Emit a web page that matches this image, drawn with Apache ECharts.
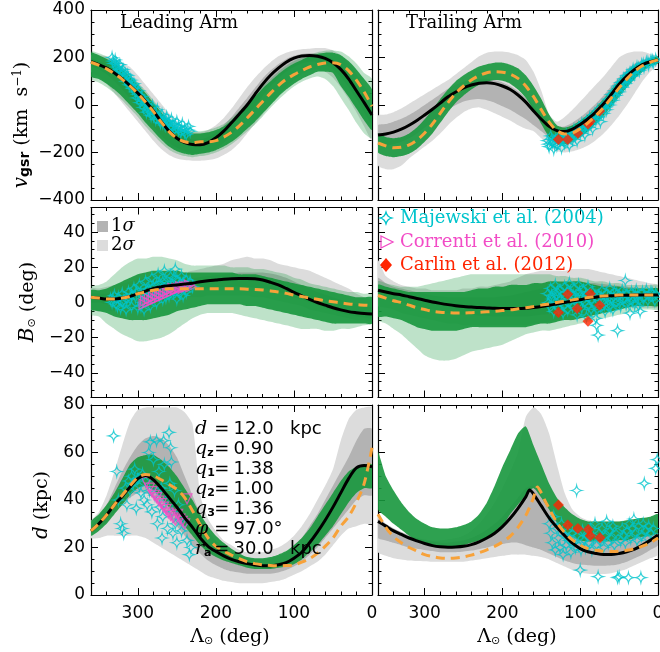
<!DOCTYPE html>
<html>
<head>
<meta charset="utf-8">
<script src="https://cdn.jsdelivr.net/npm/echarts@6/dist/echarts.min.js"></script>
<style>html,body{margin:0;padding:0;background:#fff}#chart{width:660px;height:652px}</style>
</head>
<body>
<div id="chart"></div>
<script>
// Sample longitudes (deg) shared by the bands and model curves
const LAM = [360,350,340,330,320,310,300,290,280,270,260,250,240,230,220,210,200,190,180,170,160,150,140,130,120,110,100,90,80,70,60,50,40,30,20,10,0];

// ---------- radial velocity, leading arm ----------
const vLeadModel = [182,170,155,135,110,82,50,15,-25,-70,-110,-140,-158,-166,-167,-158,-138,-110,-75,-38,0,45,88,125,155,180,197,206,208,205,196,178,150,110,60,10,-42];
const vLeadAlt   = [180,168,152,132,108,80,48,12,-28,-72,-112,-140,-155,-158,-155,-155,-150,-135,-115,-88,-55,-20,15,50,82,108,128,145,160,170,177,178,170,145,105,55,-5];
const vLeadSimHi = [220,210,195,175,150,120,85,50,10,-30,-70,-100,-115,-120,-120,-115,-105,-90,-65,-35,0,35,70,100,130,155,175,190,205,215,220,220,210,185,150,110,65];
const vLeadSimLo = [120,110,90,65,35,0,-35,-75,-110,-145,-175,-195,-205,-210,-205,-200,-190,-175,-155,-130,-100,-70,-35,0,35,65,90,110,125,140,140,135,80,35,-15,-65,-105];
const vLeadHaloHi = [225,218,205,185,160,130,95,60,20,-20,-60,-90,-105,-110,-110,-105,-95,-80,-55,-25,10,45,80,110,140,165,185,200,212,222,228,230,225,205,175,135,110];
const vLeadHaloLo = [110,95,75,50,20,-15,-50,-90,-125,-160,-188,-205,-215,-220,-215,-210,-200,-185,-165,-140,-112,-82,-48,-12,22,52,78,98,112,120,110,80,30,-20,-75,-120,-140];
const vLead2Hi = [210,210,205,195,180,160,125,85,45,5,-35,-70,-95,-110,-115,-105,-85,-55,-15,30,75,115,150,180,205,220,230,235,237,240,240,230,210,175,130,80,30];
const vLead2Lo = [140,120,90,50,10,-30,-70,-110,-150,-185,-210,-225,-232,-235,-235,-232,-225,-210,-190,-160,-120,-80,-40,0,40,75,105,130,145,150,140,115,75,25,-30,-90,-150];
const vLead1Hi = [195,185,170,152,128,100,70,35,-5,-45,-85,-115,-135,-145,-145,-135,-115,-85,-50,-10,30,72,112,145,172,193,207,215,218,216,208,192,166,130,85,38,-10];
const vLead1Lo = [165,150,130,100,65,28,-10,-50,-90,-128,-160,-180,-195,-205,-205,-198,-185,-160,-125,-85,-45,-5,38,78,112,140,160,175,182,180,170,150,118,75,25,-30,-80];
const vLeadMajewski = [[333,200],[331,175],[329,190],[327,160],[325,145],[323,170],[321,130],[319,150],[317,115],[315,100],[313,125],[311,85],[309,105],[307,70],[305,90],[303,55],[301,30],[299,60],[297,10],[295,35],[293,-10],[291,15],[289,-30],[287,0],[285,-20],[283,-45],[281,-5],[279,-35],[277,-60],[275,-20],[273,-50],[271,-75],[269,-40],[267,-60],[265,-85],[263,-50],[261,-70],[259,-95],[257,-60],[255,-80],[253,-105],[250,-70],[248,-90],[245,-115],[243,-80],[240,-100],[238,-125],[235,-90],[233,-110],
  [332,185],[328,175],[324,150],[320,140],[316,130],[312,110],[308,85],[304,75],[300,45],[296,25],[292,5],[288,-15],[284,-30],[280,-45],[276,-40],[272,-60],[268,-75],[264,-65],[260,-80],[256,-95],[252,-85],[248,-105],[244,-100],[240,-115],[236,-105]];

// ---------- radial velocity, trailing arm ----------
const vTrailModel = [-126,-122,-114,-102,-85,-65,-42,-18,8,35,55,72,84,92,94,90,80,65,42,12,-25,-60,-90,-108,-112,-102,-82,-58,-30,5,45,88,122,150,170,182,190];
const vTrailAlt   = [-160,-172,-180,-178,-168,-148,-118,-80,-35,10,50,80,105,124,136,140,138,130,112,80,35,-20,-72,-108,-122,-118,-100,-75,-45,-10,30,72,110,142,165,180,190];
const vTrailSimHi = [-120,-135,-140,-135,-120,-95,-60,-20,25,65,100,125,145,162,172,178,178,170,155,125,80,25,-40,-85,-95,-85,-65,-40,-10,25,65,105,140,165,182,195,205];
const vTrailSimLo = [-200,-215,-220,-215,-205,-185,-155,-120,-75,-30,10,40,65,85,98,105,102,90,65,30,-20,-80,-135,-160,-165,-155,-135,-110,-80,-45,-5,35,75,110,140,165,175];
const vTrail2Hi = [-45,-40,-30,-15,5,25,45,65,85,105,130,155,180,205,220,225,225,220,210,190,140,60,-40,-70,-50,-20,15,50,85,120,160,200,218,225,225,215,205];
const vTrail2Lo = [-255,-270,-270,-255,-225,-200,-175,-150,-120,-85,-55,-30,-15,-10,-20,-35,-50,-65,-85,-100,-110,-140,-175,-195,-200,-195,-185,-170,-148,-120,-85,-45,0,50,100,140,170];
const vTrail1Hi = [-85,-80,-70,-58,-42,-22,0,22,45,68,85,98,106,110,110,105,95,80,58,30,-5,-40,-72,-90,-90,-75,-52,-25,5,40,80,118,150,175,190,198,200];
const vTrail1Lo = [-170,-170,-165,-155,-140,-120,-95,-70,-45,-20,0,15,22,25,20,10,-5,-20,-40,-60,-85,-110,-135,-150,-155,-148,-130,-105,-75,-40,0,40,80,115,145,165,175];
const vTrailMajewski = [[142,-150],[140,-175],[138,-130],[136,-160],[134,-185],[132,-145],[130,-170],[128,-130],[126,-155],[124,-180],[122,-140],[120,-160],[118,-125],[116,-150],[114,-170],[112,-120],[110,-145],[108,-105],[106,-130],[104,-150],[102,-95],[100,-120],[98,-80],[96,-105],[94,-125],[92,-70],[90,-95],[88,-55],[86,-80],[84,-100],[82,-40],[80,-65],[78,-25],[76,-50],[74,-70],[72,-10],[70,-35],[68,5],[66,-20],[64,25],[62,0],[60,45],[58,20],[56,60],[54,40],[52,80],[50,55],[48,95],[46,75],[44,110],[42,90],[40,125],[38,105],[36,135],[34,120],[32,150],[30,130],[27,160],[24,145],[21,170],[18,160],[15,180],[12,170],[9,188],[6,180],[3,192],
  [141,-165],[137,-145],[133,-165],[129,-150],[125,-140],[121,-150],[117,-140],[113,-135],[109,-125],[105,-115],[101,-105],[97,-95],[93,-85],[89,-70],[85,-60],[81,-50],[77,-35],[73,-25],[69,-10],[65,5],[61,20],[57,40],[53,60],[49,75],[45,95],[41,105],[37,120],[33,135],[29,145],[25,155],[19,172],[13,180],[7,186]];
const vTrailCarlin = [[128,-145],[116,-145],[103,-119],[90,-80],[87,-68],[75,-25]];

// ---------- latitude, leading arm ----------
const bLeadModel = [3,2.5,2,2,2.5,3.5,5,6.5,8,9,9.5,10,10.5,11,11.8,12.4,12.8,13.2,13.5,13.6,13.6,13.5,12.8,11.5,10,8,5.8,3.8,1.8,0,-1.5,-3,-4.2,-5.2,-5.8,-6.3,-6.6];
const bLeadAlt   = [3,2.5,2,2,2.5,3.5,5,6,7,7.5,7.8,7.8,7.8,7.8,7.8,7.8,7.8,7.8,7.8,7.8,7.6,7.4,7.1,6.6,6,5.2,4.2,3.4,2.6,1.8,1,0.4,-0.2,-0.8,-1.2,-1.5,-1.8];
const bLeadSimHi = [7,7,8,10,12,14,16,17,18,18,18,18,17,17,17,17,17,17,17,16,16,16,15,14,13,12,11,10,9,8,7,6,5,4,3,3,3];
const bLeadSimLo = [-4,-5,-6,-8,-9,-10,-10,-10,-9,-8,-7,-5,-4,-3,-2,-1,-1,-1,-1,-1,-2,-2,-3,-4,-5,-6,-7,-8,-9,-10,-11,-12,-12,-12,-12,-12,-12];
const bLeadHaloHi = [9,10,12,16,20,23,25,25,26,26,25,24,22,21,21,21,21,21,20,20,20,19,19,18,17,16,14,13,11,10,9,8,7,6,6,5,5];
const bLeadHaloLo = [-7,-8,-12,-15,-18,-20,-22,-22,-21,-20,-18,-15,-12,-9,-7,-6,-6,-6,-6,-7,-8,-9,-10,-11,-12,-13,-14,-15,-15,-15,-16,-16,-15,-15,-14,-13,-12];
const bLead2Hi = [8,8,9,10,11,12,13,14,15,15,16,16,17,18,19,20,21,22,24,25,26,25,25,24,22,21,20,19,18,16,14,12,10,8,5,3,1];
const bLead2Lo = [-4,-5,-5,-5,-4,-3,-2,-1,0,1,2,2,3,3,3,4,4,4,4,4,4,3,3,2,1,0,-1,-2,-4,-5,-6,-7,-8,-9,-10,-10,-11];
const bLead1Hi = [5,5,5,5,6,7,8,9,10,11,12,12.5,13,14,14.5,15,15.5,16,16.5,17,17,17,17,16.5,15.5,14,12,10,8,6,4.5,3,1.5,0,-1,-2,-3];
const bLead1Lo = [0,0,-1,-1,0,1,2,3,4,5,5.5,6,6.5,7,7.5,8,8.5,9,9,9,9,8.5,8,7,6,4.5,3,1.5,0,-1.5,-3,-4.5,-6,-7,-8,-8.5,-9];
const bLeadMajewski = [[335,2],[333,0],[330,4],[328,-1],[325,3],[322,-3],[320,5],[318,1],[315,-4],[312,6],[310,2],[308,-2],[305,8],[303,3],[300,-3],[298,10],[296,5],[294,0],[292,-4],[290,12],[288,7],[286,2],[284,-2],[282,14],[280,9],[278,4],[276,0],[274,16],[272,11],[270,6],[268,2],[266,18],[264,12],[262,8],[260,4],[258,15],[256,10],[254,6],[252,19],[250,13],[248,9],[246,5],[244,15],[242,11],[240,8],[238,13],[236,10],[233,12],[230,9],
  [332,2],[326,-2],[320,0],[314,2],[308,4],[302,6],[296,-2],[290,3],[286,8],[282,5],[276,10],[272,4],[268,12],[264,3],[258,8],[254,14],[250,2],[246,11],[242,4],[238,6]];
const bLeadCorrenti = [[292,-1],[290,1],[287,0],[285,2],[282,1],[280,3],[277,2],[275,4],[272,3],[270,5],[267,4],[265,6],[262,5],[260,7],[257,6],[255,8],[252,7],[250,8],[247,8],[245,9],[242,8],[240,9],[237,9],[234,10],[232,9]];

// ---------- latitude, trailing arm ----------
const bTrailModel = [7,6,5,4.3,3.3,2.3,1.3,0.3,-0.5,-1.2,-1.8,-2.3,-2.6,-2.9,-3.1,-3.3,-3.4,-3.4,-3.4,-3.2,-2.8,-2.3,-1.6,-0.8,0,0.8,1.6,2.4,3,3.5,3.8,4,4.1,4.2,4.2,4.2,4.2];
const bTrailAlt   = [4,2.5,1,0,-1.5,-3,-4,-5,-5.5,-5.8,-6,-6,-5.8,-5.6,-5.3,-5,-4.6,-4.2,-3.6,-3,-2.3,-1.5,-0.8,0,0.8,1.5,2.2,2.8,3.3,3.7,4,4.2,4.3,4.3,4.3,4.3,4.3];
const bTrailSimHi = [10,9,8,7,6,6,6,6,6,6,6,6,7,8,8,9,9,10,10,10,11,11,12,12,12,12,12,11,10,9,9,9,8,8,8,8,8];
const bTrailSimLo = [-8,-8,-9,-10,-12,-14,-15,-16,-16,-16,-16,-15,-14,-14,-14,-14,-14,-14,-14,-14,-13,-12,-12,-11,-10,-10,-9,-8,-7,-6,-5,-4,-3,-2,-2,-2,-2];
const bTrailHaloHi = [12,11,10,9,9,9,10,11,12,13,14,15,16,16,16,16,16,16,16,16,16,16,16,15,15,14,14,13,12,12,11,11,10,10,10,10,10];
const bTrailHaloLo = [-10,-12,-15,-18,-22,-26,-30,-32,-33,-33,-32,-30,-28,-27,-26,-25,-24,-22,-20,-18,-17,-16,-16,-15,-14,-13,-12,-11,-10,-9,-8,-7,-6,-5,-4,-4,-4];
const bTrail2Hi = [24,15,12,10,9,8,8,7,7,7,7,8,8,9,9,10,11,12,14,16,17,18,18,18,18,19,19,19,18,17,16,15,14,13,12,11,10];
const bTrail2Lo = [-2,-3,-4,-6,-7,-8,-9,-10,-11,-12,-12,-13,-13,-13,-13,-13,-13,-13,-13,-13,-12,-12,-11,-10,-9,-8,-7,-6,-5,-4,-4,-3,-3,-3,-3,-3,-3];
const bTrail1Hi = [14,11,9,8,7,6,5,4,3.5,3,3,3,3,3,3,3,3.5,4,5,6,7,8,9,10,11,11,11,11,11,10.5,10,9.5,9,8.5,8,7.5,7];
const bTrail1Lo = [3,2,1,0,-1,-2,-3,-4,-5,-6,-6.5,-7,-7,-7.5,-7.5,-8,-8,-8,-8,-8,-7.5,-7,-6.5,-6,-5,-4,-3,-2,-1.5,-1,-0.5,0,0,0,0,0,0];
const bTrailMajewski = [[142,5],[140,-2],[138,8],[136,2],[134,-5],[132,10],[130,4],[128,-3],[126,7],[124,0],[122,-6],[120,9],[118,3],[116,-4],[114,11],[112,5],[110,-2],[108,8],[106,1],[104,-7],[102,10],[100,4],[98,-3],[96,7],[94,0],[92,-8],[90,9],[88,3],[86,-4],[84,6],[82,-1],[80,-9],[79,-13],[77,-18.5],[76,4],[74,-2],[72,7],[70,1],[68,-5],[66,5],[64,-1],[62,8],[60,2],[58,-4],[56,6],[54,0],[52,-16],[50,4],[48,-2],[46,7],[44,2],[42,12.5],[40,5],[38,0],[36,-6],[34,6],[32,3],[30,-1],[28,7],[26,4],[24,1],[23,-5],[20,6],[18,3],[15,7],[12,4],[9,6],[6,3],[3,5],
  [141,0],[137,4],[133,0],[129,6],[125,2],[121,-2],[117,6],[113,0],[109,4],[105,-3],[101,6],[97,1],[93,4],[89,-2],[85,1],[81,4],[78,-4],[73,3],[69,-1],[65,2],[61,-2],[57,3],[53,5],[49,0],[45,4],[41,-1],[37,3],[33,1],[29,4],[25,-2],[19,2],[13,1],[7,5],[4,1]];
const bTrailCarlin = [[128,-5.7],[116,4.7],[104,-3.4],[90,-10.6],[87,5],[75,-1.5]];

// ---------- distance, leading arm ----------
const dLeadModel = [27,30,33.7,38,41.5,45.5,49,50.3,48.5,45,41,37,32.5,28.5,24,20.5,18.3,16.5,15,14,13.2,12.6,12.3,12.3,12.7,13.6,15.5,18,22,26.5,31.5,37,43,49,53.5,54.5,54];
const dLeadAlt   = [27,30,33.7,38,42,46,49.5,50.7,50.2,48.5,46.5,44.5,41,35.5,29.5,24,20.5,18.5,16.8,15.3,14,13.2,12.7,12.4,12.3,12.4,12.7,13.8,15.3,17.5,20.5,24,29,33,39,47,62];
const dLeadSimHi = [31,34,38,43,49,55,58,59,59,57,54,50,45,40,34,29,25,22,19.5,17.5,16,15.5,15.5,16,17,18.5,21,24,28,33,38,43,48,52,54,55,55];
const dLeadSimLo = [25,27,30,34,38,42,45,46,44,41,37,33,29,25,21,18,16,14.5,13.5,12.5,11.5,11,11,11,11.5,12,13,15,18,21,25,29,34,39,43,45,45];
const dLead2Hi = [31,35,42,52,63,73,78,79,79,79,79,79,77,72,42,32,27,23,21,19,18,18,18,19,20,22,25,29,34,40,46,53,65,74,78,79,79];
const dLead2Lo = [24,24,25,25,25,25,25,24,22,20,18,16,14,12,10,8,7,6,5.5,5,5,5,5,5.5,6,7,8.5,10,12,14,17,21,25,28,29,30,30];
const dLead1Hi = [29,33,38,45,52,58,63,66,67,66,63,58,50,42,34,27,23,20,18,16.5,15.5,15,15,15.5,16.5,18,21,24,29,34,40,46,52,58,65,70,70];
const dLead1Lo = [26,28,31,35,38,41,43,43,41,37,33,29,25,21,17.5,14.5,12.5,11,10,9.5,9,9,9,9,9.5,10.5,12,14,17,20,24,28,32,36,40,42,42];
const dLeadMajewski = [[331,67],[327,52],[325,40],[322,30],[320,28],[318,26],[316,45],[314,38],[312,48],[310,44],[308,50],[306,47],[304,53],[302,36.5],[300,49],[298,46],[296,43],[294,51],[292,40],[290,48],[288,38],[286,60],[285,44],[284,64.5],[282,35],[280,57],[278,42],[276,65],[275,30],[273,52],[272,37],[270,45],[269,24],[268,33],[267,65],[266,55],[264,40],[262,28],[260,68.5],[259,47],[258,62],[257,56],[256,35],[255,26],[253,44],[252,30],[250,22],[248,38],[246,32],[244,27],[240,30],[237,23],[234,17],[232,20]];
const dLeadCorrenti = [[289,47.5],[285,45],[282,43.5],[279,42],[276,41],[273,39.5],[270,38.5],[267,37],[264,36],[261,34.5],[258,33.5],[255,32.5],[252,31.5],[249,34],[246,32],[243,31],[240,30],[237,40.5]];

// ---------- distance, trailing arm ----------
const dTrailModelLam = [360,350,340,330,320,310,300,290,280,270,260,250,240,230,220,210,200,190,180,170,165,160,150,140,130,120,110,100,90,80,70,60,50,40,30,20,10,0];
const dTrailModel    = [31,29,27,25.5,24,22.8,21.7,20.8,20.3,20.1,20.2,20.5,21.2,22.4,24,26,28.8,32.3,36.5,41.3,44.2,42.5,37.5,32.5,28.5,25,21.8,19.5,18.2,17.5,17.1,17.1,17.5,18.2,19.3,21,23,25.3];
const dTrailAltLam = [360,350,340,330,320,310,300,290,280,270,260,250,240,230,220,210,200,190,180,170,165,160,155,150,145,140,130,120,110,100,90,80,70,60,50,40,30,20,10,0];
const dTrailAlt    = [34,28.5,24.5,22,20,18.5,17,16.2,15.6,15.4,15.6,16,16.8,17.8,19,20.5,22.3,24.8,28.5,33.5,37,41,45.5,43,39.5,36.5,30.5,26.3,23.2,21,19.5,18.8,18.4,18.3,18.4,18.8,19.5,20.6,22,24];
const dTrailSimHi = [60,50,44,39,35,32,30,28.5,28,28,28.5,29.5,31,34,39,46,54,61,68,71,63,55,47,41,37,34,32,31,31,31,31,31,31.5,32,32.5,33,34];
const dTrailSimLo = [36,33,30,27.5,25,23,21.5,20.5,20,20,20.5,21,22,23,24,26,29,34,38,42,45,41,36,30.5,27,24.5,23,22.5,22.5,22.5,22.5,23,23,24,24.5,25,26];
const dTrail2Hi = [33,30,28,26,25,24,23.5,23,23,23.5,24,25,27,30,34,39,45,52,60,75,79,76,68,55,43,36,33,31.5,31,31,31,31,31,31,30.5,30,30];
const dTrail2Lo = [18,16.5,15.5,15,14.5,14.3,14.2,14,14,14,14,14,14.5,15,15.5,16,16.5,17,17,17,16.5,16,15,13.5,12,10.5,9.5,9,8.8,8.8,9.2,10,11,12.5,14,15.5,17];
const dTrail1Hi = [32,30,28,26.5,25,24,23,22.5,22,22,22.5,23,24,25.5,27.5,30,33,37,41,45,46,42,37,33,29,26,24,23,22.5,22.5,22.5,23,23.5,24.5,25.5,27,28];
const dTrail1Lo = [24,23,22,21,20,19.5,19,18.5,18,18,18,18.3,18.7,19.3,20,21,21.5,22,22,21,20,19,17.5,16,14.5,13.5,12.8,12.5,12.3,12.3,12.5,13,14,15.5,17,19,21];
const dTrailMajewski = [[140,30],[138,26],[136,22],[134,33],[132,19],[130,28],[128,24],[126,20],[124,30],[122,17],[120,25],[118,21],[116,27],[114,23],[112,18],[110,26],[108,22],[106,20],[104.6,44],[104,25],[102,21],[100,10.5],[99,19],[97,27],[95,23],[93,20],[91,25],[89,22],[87,28],[85,19],[83,24],[81,30],[79,21],[77,7.7],[76,26],[74,23],[72,28],[70,20],[68,25],[66,31],[64,22],[62,27],[60,24],[58,29],[56,21],[54,26],[52,7.3],[50,7.6],[48,23],[46,28],[44,25],[42,22],[40,27],[38,7.3],[37,30],[35,24],[33,28],[31,32],[29,26],[27,23],[25,29],[22,7.3],[21,25],[19,30],[17.6,47],[16,27],[14,24],[12,29],[9,26],[6,28],[3,53.3],[1,57]];
const dTrailCarlin = [[128,37.9],[116,29.5],[103,28],[89.6,27.6],[87,25],[74.6,24.1]];

// Axis ticks and labels
const lamMajor = [0,100,200,300];
const lamMinor = [20,40,60,80,120,140,160,180,220,240,260,280,320,340];
const vMajor = [-400,-200,0,200,400];
const vMinor = [-350,-300,-250,-150,-100,-50,50,100,150,250,300,350];
const bMajor = [-40,-20,0,20,40];
const bMinor = [-50,-45,-35,-30,-25,-15,-10,-5,5,10,15,25,30,35,45,50];
const dMajor = [0,20,40,60,80];
const dMinor = [5,10,15,25,30,35,45,50,55,65,70,75];

// Fit parameters printed in the distance panel
const fitParams = [
  {name:'{i|d}', value:'12.0', unit:'kpc'},
  {name:'{i|q}{s|z}', value:'0.90'},
  {name:'{i|q}{s|1}', value:'1.38'},
  {name:'{i|q}{s|2}', value:'1.00'},
  {name:'{i|q}{s|3}', value:'1.36'},
  {name:'{i|φ}', value:'97.0°'},
  {name:'{i|r}{s|a}', value:'30.0', unit:'kpc'}
];

const COL = {
  light:'#dcdcdc', dark:'#b3b3b3', green:'#17973d', cyan:'#00c4cc',
  magenta:'#f24cc6', red:'#ff2400', orange:'#f7a23a', black:'#000'
};
const SERIF = 'DejaVu Serif';
const SANS = 'DejaVu Sans';

const rows = [
  {min:-400, max:400, major:vMajor, minor:vMinor},
  {min:-54, max:54, major:bMajor, minor:bMinor},
  {min:0, max:80, major:dMajor, minor:dMinor}
];
const cols = [{left:91, width:281},{left:378, width:280}];
const rowTops = [10, 207.5, 405];
const PANEL_H = 190;

const panels = [
  {r:0,c:0, hi2:vLead2Hi, lo2:vLead2Lo, hi1:vLead1Hi, lo1:vLead1Lo, simHi:vLeadSimHi, simLo:vLeadSimLo,
   haloHi:vLeadHaloHi, haloLo:vLeadHaloLo, model:vLeadModel, alt:vLeadAlt, majewski:vLeadMajewski},
  {r:0,c:1, hi2:vTrail2Hi, lo2:vTrail2Lo, hi1:vTrail1Hi, lo1:vTrail1Lo, simHi:vTrailSimHi, simLo:vTrailSimLo,
   model:vTrailModel, alt:vTrailAlt, majewski:vTrailMajewski, carlin:vTrailCarlin},
  {r:1,c:0, hi2:bLead2Hi, lo2:bLead2Lo, hi1:bLead1Hi, lo1:bLead1Lo, simHi:bLeadSimHi, simLo:bLeadSimLo,
   haloHi:bLeadHaloHi, haloLo:bLeadHaloLo, model:bLeadModel, alt:bLeadAlt, majewski:bLeadMajewski,
   correnti:bLeadCorrenti, correntiRot:-90},
  {r:1,c:1, hi2:bTrail2Hi, lo2:bTrail2Lo, hi1:bTrail1Hi, lo1:bTrail1Lo, simHi:bTrailSimHi, simLo:bTrailSimLo,
   haloHi:bTrailHaloHi, haloLo:bTrailHaloLo, model:bTrailModel, alt:bTrailAlt, majewski:bTrailMajewski, carlin:bTrailCarlin},
  {r:2,c:0, hi2:dLead2Hi, lo2:dLead2Lo, hi1:dLead1Hi, lo1:dLead1Lo, simHi:dLeadSimHi, simLo:dLeadSimLo,
   model:dLeadModel, alt:dLeadAlt, majewski:dLeadMajewski, correnti:dLeadCorrenti, correntiRot:180},
  {r:2,c:1, hi2:dTrail2Hi, lo2:dTrail2Lo, hi1:dTrail1Hi, lo1:dTrail1Lo, simHi:dTrailSimHi, simLo:dTrailSimLo,
   model:dTrailModel, modelLam:dTrailModelLam, alt:dTrailAlt, altLam:dTrailAltLam, majewski:dTrailMajewski, carlin:dTrailCarlin}
];

const STAR = 'path://M0,-10 Q1.6,-1.6 10,0 Q1.6,1.6 0,10 Q-1.6,1.6 -10,0 Q-1.6,-1.6 0,-10 Z';
const frameLine = {show:true, onZero:false, lineStyle:{color:'#000', width:1.2}};
const tickLine = {color:'#000', width:1};
const minus = v => String(v).replace('-', '\u2212');
const tickFont = {fontSize:17, fontFamily:SANS, color:'#000'};

const grids = [], xAxes = [], yAxes = [], series = [];

panels.forEach((p, gi) => {
  const row = rows[p.r], col = cols[p.c];
  grids.push({left:col.left, top:rowTops[p.r], width:col.width, height:PANEL_H, outerBoundsMode:'none', containLabel:false});

  const xb = {gridIndex:gi, type:'value', min:0, max:360, inverse:true, splitLine:{show:false}};
  const showX = p.r === 2;
  xAxes.push(
    Object.assign({}, xb, {position:'bottom', axisLine:frameLine,
      axisTick:{show:true, inside:true, length:7, customValues:lamMajor, lineStyle:tickLine},
      axisLabel:Object.assign({show:showX, customValues:lamMajor, margin:10}, tickFont)}),
    Object.assign({}, xb, {position:'bottom', axisLine:{show:false, onZero:false},
      axisTick:{show:true, inside:true, length:3.5, customValues:lamMinor, lineStyle:tickLine}, axisLabel:{show:false}}),
    Object.assign({}, xb, {position:'top', axisLine:frameLine,
      axisTick:{show:true, inside:true, length:7, customValues:lamMajor, lineStyle:tickLine}, axisLabel:{show:false}}),
    Object.assign({}, xb, {position:'top', axisLine:{show:false, onZero:false},
      axisTick:{show:true, inside:true, length:3.5, customValues:lamMinor, lineStyle:tickLine}, axisLabel:{show:false}})
  );

  const yb = {gridIndex:gi, type:'value', min:row.min, max:row.max, splitLine:{show:false}};
  const showY = p.c === 0;
  yAxes.push(
    Object.assign({}, yb, {position:'left', axisLine:frameLine,
      axisTick:{show:true, inside:true, length:7, customValues:row.major, lineStyle:tickLine},
      axisLabel:Object.assign({show:showY, customValues:row.major, margin:6, formatter:minus}, tickFont)}),
    Object.assign({}, yb, {position:'left', axisLine:{show:false, onZero:false},
      axisTick:{show:true, inside:true, length:3.5, customValues:row.minor, lineStyle:tickLine}, axisLabel:{show:false}}),
    Object.assign({}, yb, {position:'right', axisLine:frameLine,
      axisTick:{show:true, inside:true, length:7, customValues:row.major, lineStyle:tickLine}, axisLabel:{show:false}}),
    Object.assign({}, yb, {position:'right', axisLine:{show:false, onZero:false},
      axisTick:{show:true, inside:true, length:3.5, customValues:row.minor, lineStyle:tickLine}, axisLabel:{show:false}})
  );

  const ax = {xAxisIndex:gi*4, yAxisIndex:gi*4};
  const band = (hi, lo, fill, opacity) => Object.assign({
    type:'custom', clip:true, silent:true, data:[[180, 0]],
    renderItem: (params, api) => {
      const pts = [];
      for (let i = 0; i < LAM.length; i++) pts.push(api.coord([LAM[i], hi[i]]));
      for (let i = LAM.length - 1; i >= 0; i--) pts.push(api.coord([LAM[i], lo[i]]));
      return {type:'polygon', shape:{points:pts, smooth:0.2}, style:{fill, opacity}};
    }
  }, ax);
  const curve = (lam, vals, lineStyle) => Object.assign({
    type:'line', data: lam.map((l, i) => [l, vals[i]]), symbol:'none', smooth:0.3,
    silent:true, lineStyle
  }, ax);
  const dots = (pts, symbol, size, itemStyle, rotate) => Object.assign({
    type:'scatter', data:pts, symbol, symbolSize:size, symbolRotate:rotate || 0, silent:true, itemStyle
  }, ax);

  series.push(band(p.hi2, p.lo2, COL.light, 1));
  series.push(band(p.hi1, p.lo1, COL.dark, 1));
  if (p.haloHi) series.push(band(p.haloHi, p.haloLo, COL.green, 0.28));
  series.push(band(p.simHi, p.simLo, COL.green, 0.9));
  series.push(curve(p.modelLam || LAM, p.model, {color:COL.black, width:3}));
  series.push(curve(p.altLam || LAM, p.alt, {color:COL.orange, width:3, type:[9,6]}));
  series.push(dots(p.majewski, STAR, 10, {color:'rgba(0,0,0,0)', borderColor:COL.cyan, borderWidth:1.2}));
  if (p.correnti) series.push(dots(p.correnti, 'triangle', 10,
    {color:'rgba(0,0,0,0)', borderColor:COL.magenta, borderWidth:1.2}, p.correntiRot));
  if (p.carlin) series.push(dots(p.carlin, 'diamond', 11, {color:COL.red}));
});

// ---------- annotations ----------
const g = [];
const text = (x, y, t, style, extra) => g.push(Object.assign({type:'text', x, y, z:100,
  style:Object.assign({text:t, fill:'#000', fontSize:18, fontFamily:SERIF, align:'left', verticalAlign:'middle'}, style)}, extra || {}));

text(120, 23, 'Leading Arm');
text(406, 23, 'Trailing Arm');

// sigma legend
g.push({type:'rect', z:100, shape:{x:97, y:221, width:11, height:11}, style:{fill:COL.dark}});
g.push({type:'rect', z:100, shape:{x:97, y:240, width:11, height:11}, style:{fill:COL.light}});
const sigRich = {n:{fontFamily:SERIF, fontSize:18, fill:'#000'}, i:{fontFamily:SERIF, fontStyle:'italic', fontSize:18, fill:'#000'}};
text(111, 226, '{n|1}{i|σ}', {rich:sigRich});
text(111, 245, '{n|2}{i|σ}', {rich:sigRich});

// observation legend
const starPts = [];
[[0,-1],[1,0],[0,1],[-1,0]].forEach((tip, k, arr) => {
  const nxt = arr[(k + 1) % 4];
  const ctl = [(tip[0] + nxt[0]) * 1, (tip[1] + nxt[1]) * 1];
  for (let t = 0; t < 1; t += 0.25) {
    const a = (1 - t) * (1 - t), b = 2 * (1 - t) * t, c = t * t;
    starPts.push([6 * (a * tip[0] + c * nxt[0]) + b * ctl[0], 6 * (a * tip[1] + c * nxt[1]) + b * ctl[1]]);
  }
});
g.push({type:'polygon', z:100, x:386, y:218, shape:{points:starPts}, style:{fill:'none', stroke:COL.cyan, lineWidth:1.3}});
g.push({type:'polygon', z:100, x:386, y:242, shape:{points:[[-5,-6],[7,0],[-5,6]]}, style:{fill:'none', stroke:COL.magenta, lineWidth:1.3}});
g.push({type:'polygon', z:100, x:386, y:265, shape:{points:[[0,-7],[6,0],[0,7],[-6,0]]}, style:{fill:COL.red}});
text(400, 218, 'Majewski et al. (2004)', {fill:COL.cyan});
text(400, 242, 'Correnti et al. (2010)', {fill:COL.magenta});
text(400, 265, 'Carlin et al. (2012)', {fill:COL.red});

// fit parameters
const parRich = {
  i:{fontFamily:SERIF, fontStyle:'italic', fontSize:19, fill:'#000'},
  s:{fontFamily:SANS, fontWeight:'bold', fontSize:11, fill:'#000', verticalAlign:'bottom'}
};
fitParams.forEach((fp, k) => {
  const y = 429 + k * 20;
  text(195, y, fp.name, {rich:parRich});
  text(221.7, y, '=', {fontFamily:SANS, fontSize:18, align:'center'});
  text(233.5, y, fp.value, {fontFamily:SANS, fontSize:18});
  if (fp.unit) text(290, y, fp.unit, {fontFamily:SANS, fontSize:18});
});

// axis titles
const titleRich = {
  i:{fontFamily:SERIF, fontStyle:'italic', fontSize:20, fill:'#000'},
  n:{fontFamily:SERIF, fontSize:19, fill:'#000'},
  s:{fontFamily:SANS, fontWeight:'bold', fontSize:14, fill:'#000', verticalAlign:'bottom'},
  o:{fontFamily:SANS, fontSize:11, fill:'#000', verticalAlign:'bottom'},
  p:{fontFamily:SERIF, fontSize:12, fill:'#000', verticalAlign:'top'}
};
const vtitle = (x, y, t) => text(x, y, t, {rich:titleRich, align:'center'}, {rotation:Math.PI / 2});
vtitle(22, 125, '{i|v}{s|gsr}{n| (km  s}{p|−1}{n|)}');
vtitle(28, 302, '{i|B}{o|⊙}{n| (deg)}');
vtitle(42, 505, '{i|d}{n| (kpc)}');
text(230, 637, '{n|Λ}{o|⊙}{n| (deg)}', {rich:titleRich, align:'center'});
text(517, 637, '{n|Λ}{o|⊙}{n| (deg)}', {rich:titleRich, align:'center'});

const chart = echarts.init(document.getElementById('chart'), null, {renderer:'canvas'});
chart.setOption({
  animation:false,
  backgroundColor:'#fff',
  grid:grids, xAxis:xAxes, yAxis:yAxes, series, graphic:g
});
</script>
</body>
</html>
